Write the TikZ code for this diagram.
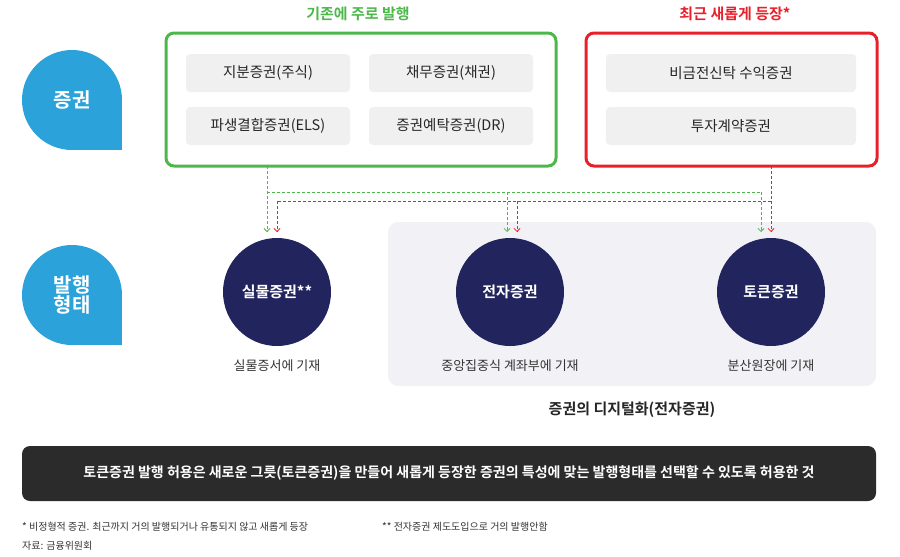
\documentclass[tikz,border=0pt]{standalone}
\usepackage{fontspec}
\setmainfont{Noto Sans CJK KR}
\newfontfamily\bfk{Noto Sans CJK KR Bold}
\usetikzlibrary{arrows.meta}
\definecolor{gr}{HTML}{4CB84A}
\definecolor{rd}{HTML}{E8202A}
\definecolor{pill}{HTML}{F0F0F0}
\definecolor{panel}{HTML}{F2F2F6}
\definecolor{navy}{HTML}{22245E}
\definecolor{blu}{HTML}{2BA3DA}
\definecolor{bar}{HTML}{2B2B2B}
\tikzset{
 pillbox/.style={fill=pill,rounded corners=4pt,minimum height=38pt,font=\fontsize{14.5}{16}\selectfont,text=black!85},
 frame/.style={line width=3pt,rounded corners=8pt},
 circ/.style={circle,fill=navy,minimum size=108pt,text=white,font=\bfk\fontsize{15}{17}\selectfont},
 captext/.style={font=\fontsize{13}{15}\selectfont,text=black!80},
 conn/.style={dashed,dash pattern=on 3pt off 2pt,line width=0.8pt,-{Straight Barb[length=3pt,width=6pt]}},
 tag/.style={text=white,font=\bfk\fontsize{20}{24}\selectfont,align=center},
 notetext/.style={anchor=west,font=\fontsize{10}{12}\selectfont,text=black!80,inner sep=0},
}
\begin{document}
\begin{tikzpicture}[x=1pt,y=-1pt]
\useasboundingbox (0,0) rectangle (900,557);
% teardrops
\fill[blu] (72,100) circle[radius=50pt];
\fill[blu] (72,100) rectangle (122,150);
\node[tag] (t1) at (72,100) {증권};
\fill[blu] (72,295) circle[radius=50pt];
\fill[blu] (72,295) rectangle (122,345);
\node[tag] (t2) at (72,295) {발행\\[-4pt]형태};
% frames
\draw[frame,gr] (166,33) rectangle (556,166);
\draw[frame,rd] (586,33) rectangle (877,166);
\node[text=gr,font=\bfk\fontsize{15}{17}\selectfont] (gt) at (358,14) {기존에 주로 발행};
\node[text=rd,font=\bfk\fontsize{15}{17}\selectfont] (rt) at (735,14) {최근 새롭게 등장*};
\node[pillbox,minimum width=164pt] (p1) at (268,73) {지분증권(주식)};
\node[pillbox,minimum width=164pt] (p2) at (451,73) {채무증권(채권)};
\node[pillbox,minimum width=164pt] (p3) at (268,126) {파생결합증권(ELS)};
\node[pillbox,minimum width=164pt] (p4) at (451,126) {증권예탁증권(DR)};
\node[pillbox,minimum width=250pt] (p5) at (731,73) {비금전신탁 수익증권};
\node[pillbox,minimum width=250pt] (p6) at (731,126) {투자계약증권};
% panel
\fill[panel,rounded corners=10pt] (388,222) rectangle (876,386);
\node[circ] (c1) at (277,292) {실물증권**};
\node[circ] (c2) at (510,292) {전자증권};
\node[circ] (c3) at (771,292) {토큰증권};
\node[captext] (l1) at (277,366) {실물증서에 기재};
\node[captext] (l2) at (510,366) {중앙집중식 계좌부에 기재};
\node[captext] (l3) at (771,366) {분산원장에 기재};
\node[font=\bfk\fontsize{15}{17}\selectfont,text=black!85] (dg) at (632,410) {증권의 디지털화(전자증권)};
% connectors
\coordinate (gs) at (267,166);
\coordinate (rs) at (771,166);
\coordinate (gj) at (267,192);
\coordinate (rj) at (771,201);
\draw[conn,gr] (gs) -- (267,232);
\draw[conn,gr,-] (gj) -- (761,192);
\draw[conn,gr] (507,192) -- (507,232);
\draw[conn,gr] (761,192) -- (761,232);
\draw[conn,rd] (rs) -- (771,232);
\draw[conn,rd,-] (rj) -- (277,201);
\draw[conn,rd] (277,201) -- (277,232);
\draw[conn,rd] (517,201) -- (517,232);
% bar
\fill[bar,rounded corners=8pt] (22,446) rectangle (876,501);
\node[text=white,font=\bfk\fontsize{14}{16}\selectfont] (bt) at (449,473) {토큰증권 발행 허용은 새로운 그릇(토큰증권)을 만들어 새롭게 등장한 증권의 특성에 맞는 발행형태를 선택할 수 있도록 허용한 것};
% notes
\node[notetext] (n1) at (22,527) {* 비정형적 증권. 최근까지 거의 발행되거나 유통되지 않고 새롭게 등장};
\node[notetext] (n2) at (382,527) {** 전자증권 제도도입으로 거의 발행안함};
\node[notetext] (n3) at (22,546) {자료: 금융위원회};
\end{tikzpicture}
\end{document}
